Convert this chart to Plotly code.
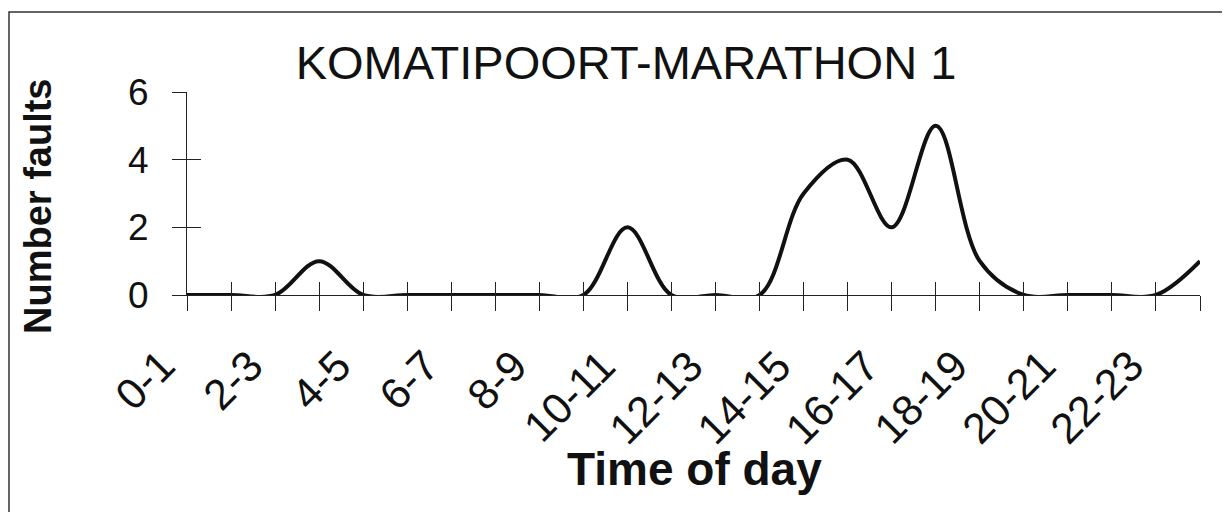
import plotly.graph_objects as go

# ---- data ----
time_labels = ["0-1", "1-2", "2-3", "3-4", "4-5", "5-6", "6-7", "7-8", "8-9", "9-10",
               "10-11", "11-12", "12-13", "13-14", "14-15", "15-16", "16-17", "17-18",
               "18-19", "19-20", "20-21", "21-22", "22-23", "23-24"]
faults = [0, 0, 0, 1, 0, 0, 0, 0, 0, 0,
          2, 0, 0, 0, 3, 4, 2, 5, 1, 0,
          0, 0, 0, 1]
y_ticks = [0, 2, 4, 6]
title_text = "KOMATIPOORT-MARATHON 1"
x_title = "Time of day"
y_title = "Number faults"

# page body has an 8px default margin; lay out in screen pixels and shift
OFF = 8
W, H = 1230 - OFF, 512 - OFF
PLOT_X0, PLOT_X1 = 187, 1200      # screen px
PLOT_Y0, PLOT_Y1 = 92, 295        # screen px (top, bottom)
L = PLOT_X0 - OFF
R = W - (PLOT_X1 - OFF)
T = PLOT_Y0 - OFF
B = H - (PLOT_Y1 - OFF)
PW, PH = PLOT_X1 - PLOT_X0, PLOT_Y1 - PLOT_Y0

def px_x(x):
    return (x - PLOT_X0) / PW

def px_y(y):
    return (PLOT_Y1 - y) / PH

FONT = "Arial, 'Liberation Sans', Helvetica, sans-serif"
INK = "#111111"
idx = list(range(len(time_labels)))

fig = go.Figure()
fig.add_trace(go.Scatter(
    x=idx, y=faults, mode="lines",
    line=dict(color=INK, width=4, shape="spline", smoothing=1.0),
    hoverinfo="skip", showlegend=False, cliponaxis=False,
))
# invisible trace hosting the overlay axes (inner half of the crossing ticks)
fig.add_trace(go.Scatter(
    x=idx, y=faults, mode="lines", xaxis="x2", yaxis="y2",
    line=dict(color="rgba(0,0,0,0)", width=0),
    hoverinfo="skip", showlegend=False,
))

axis_common = dict(showgrid=False, zeroline=False)

# rotated category labels (every second one), placed via the x axis scale
tick_annotations = [
    dict(text=time_labels[i], xref="x", yref="paper", x=idx[i], y=px_y(340),
         xshift=-2, xanchor="right", yanchor="top", textangle=-45,
         showarrow=False, borderpad=0,
         font=dict(family=FONT, size=43, color=INK))
    for i in idx[::2]
]

fig.update_layout(
    width=W, height=H,
    margin=dict(l=L, r=R, t=T, b=B),
    paper_bgcolor="white", plot_bgcolor="white",
    font=dict(family=FONT, color=INK),
    title=dict(text=title_text, x=(626 - OFF) / W, xanchor="center",
               y=1 - (63 - OFF) / H, yanchor="middle",
               font=dict(family=FONT, size=47, color=INK)),
    xaxis=dict(**axis_common, range=[0, 23], tickmode="array", tickvals=idx,
               showticklabels=False, ticks="outside", ticklen=15,
               tickwidth=1.2, tickcolor="#222222", showline=True, linecolor="#222222",
               linewidth=1.2),
    yaxis=dict(**axis_common, range=[0, 6], tickmode="array", tickvals=y_ticks,
               ticks="outside", ticklen=14, tickwidth=1.2, tickcolor="#222222",
               showline=True, linecolor="#222222", linewidth=1.2,
               tickfont=dict(family=FONT, size=37, color=INK),
               ticklabelstandoff=16),
    xaxis2=dict(**axis_common, overlaying="x", anchor="y2", side="bottom",
                range=[0, 23], tickmode="array", tickvals=idx, showticklabels=False,
                ticks="inside", ticklen=13, tickwidth=1.2, tickcolor="#222222",
                showline=False),
    yaxis2=dict(**axis_common, overlaying="y", anchor="x2", side="left",
                range=[0, 6], tickmode="array", tickvals=y_ticks, showticklabels=False,
                ticks="inside", ticklen=14, tickwidth=1.2, tickcolor="#222222",
                showline=False),
    annotations=tick_annotations + [
        dict(text=f"<b>{x_title}</b>", xref="paper", yref="paper",
             x=px_x(694), y=px_y(469), xanchor="center", yanchor="middle",
             showarrow=False, font=dict(family=FONT, size=46, color=INK)),
        dict(text=f"<b>{y_title}</b>", xref="paper", yref="paper",
             x=px_x(38), y=px_y(207), xanchor="center", yanchor="middle",
             textangle=-90, showarrow=False,
             font=dict(family=FONT, size=38, color=INK)),
    ],
    shapes=[
        dict(type="rect", xref="paper", yref="paper",
             x0=px_x(9), x1=px_x(1224), y0=px_y(530), y1=px_y(12),
             line=dict(color="#333333", width=1.5), fillcolor="rgba(0,0,0,0)",
             layer="below"),
    ],
)

fig.write_html("out.html")
